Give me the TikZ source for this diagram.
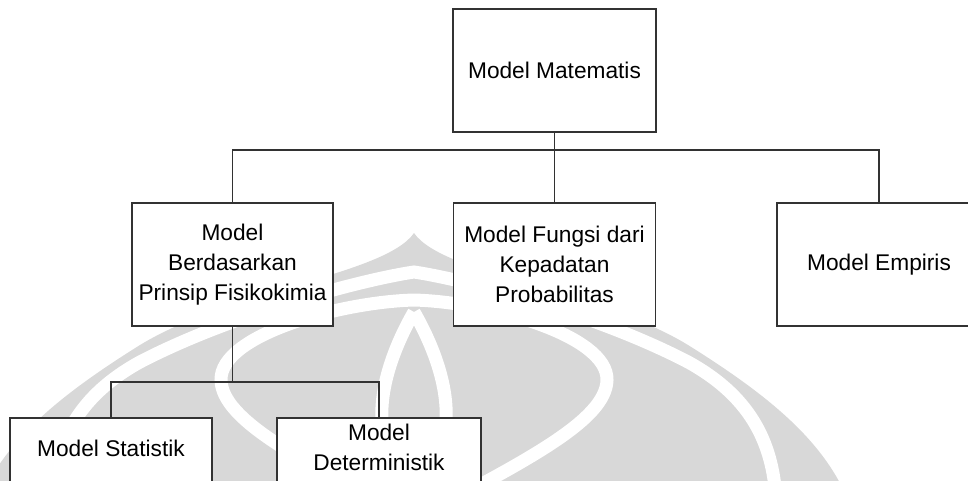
\documentclass[tikz,border=0pt]{standalone}
\usepackage{fontspec}
\setmainfont{Liberation Sans}
\definecolor{markgray}{RGB}{216,216,216}
\definecolor{rulegray}{RGB}{50,50,50}
\begin{document}
\begin{tikzpicture}[x=1pt,y=-1pt,
  box/.style={draw=rulegray, line width=1.4pt, fill=white, align=center,
    inner sep=0pt, text=black, font=\fontsize{22.7}{30}\selectfont},
  link/.style={draw=rulegray, line width=1.4pt},
  petal/.style={draw=white, line width=13pt}]
\useasboundingbox (0,0) rectangle (968,480);
\clip (0,0) rectangle (968,480);

% faint emblem in the background
\fill[markgray] (414,233) .. controls (385,275) and (230,290) .. (140,345)
  .. controls (60,395) and (5,440) .. (-20,500) -- (848,500)
  .. controls (823,440) and (768,395) .. (688,345)
  .. controls (598,290) and (443,275) .. (414,233) -- cycle;
\draw[petal] (52,500) .. controls (55,440) and (80,395) .. (140,362)
  .. controls (230,315) and (360,280) .. (414,272)
  .. controls (468,280) and (598,315) .. (688,362)
  .. controls (748,395) and (773,440) .. (776,500);
\draw[petal] (414,520) .. controls (300,460) and (222,420) .. (221,380)
  .. controls (220,335) and (340,302) .. (414,300)
  .. controls (488,302) and (608,335) .. (607,380)
  .. controls (606,420) and (528,460) .. (414,520);
\draw[petal] (414,312) .. controls (395,345) and (380,385) .. (382,420)
  .. controls (384,450) and (400,470) .. (414,500)
  .. controls (428,470) and (444,450) .. (446,420)
  .. controls (448,385) and (433,345) .. (414,312);

% boxes
\node[box, minimum width=203, minimum height=123] (mm) at (554.5,70.5) {Model Matematis};
\node[box, minimum width=201, minimum height=123] (mb) at (232.5,264.5) {Model\\Berdasarkan\\Prinsip Fisikokimia};
\node[box, minimum width=202, minimum height=123] (mf) at (554.5,264.5) {Model Fungsi dari\\Kepadatan\\Probabilitas};
\node[box, minimum width=204, minimum height=123] (me) at (879,264.5) {Model Empiris};
\node[box, minimum width=202, text height=38, text depth=40, anchor=base] (ms) at (111,456) {Model Statistik};
\node[box, minimum width=204, text height=52, text depth=30, anchor=base] (md) at (379,470) {Model\\Deterministik};

% connectors
\coordinate (bus) at (554.5,150);
\coordinate (bus2) at (232.5,382);
\draw[link] (mm.south) -- (mf.north);
\draw[link] (mb.north) |- (bus) -| (me.north);
\draw[link] (mb.south) -- (bus2);
\draw[link] (ms.north) |- (bus2) -| (md.north);
\end{tikzpicture}
\end{document}
